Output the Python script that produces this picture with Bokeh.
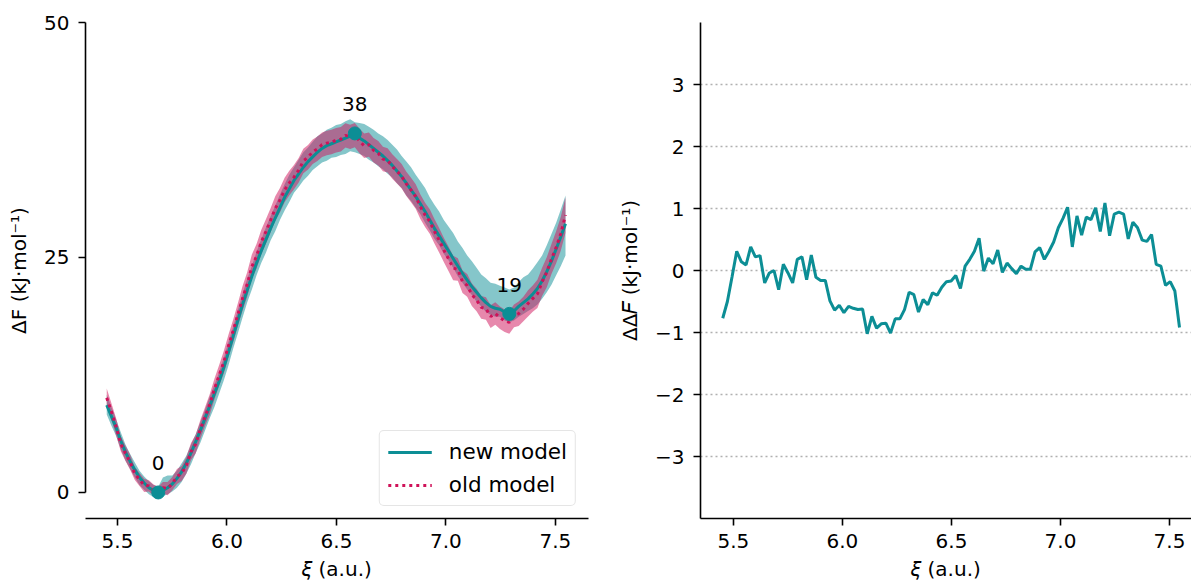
import numpy as np
from bokeh.plotting import figure
from bokeh.layouts import row
from bokeh.models import FixedTicker, Range1d, Legend, LegendItem, PrintfTickFormatter
from bokeh.embed import file_html
from bokeh.resources import INLINE
from bokeh.core.properties import value

FONT = "DejaVu Sans"
TEAL = "#0C8E95"
CRIMSON = "#CF1259"

# reaction coordinate grid (a.u.)
xi = np.linspace(5.451, 7.546, 99)

# free energy profile of the new model (kJ/mol)
f_new = [
    9.3, 8.1, 6.9, 5.5, 4.3, 3.3, 2.4, 1.6, 1.0, 0.5,
    0.2, 0.0, 0.2, 0.5, 0.9, 1.5, 2.2, 3.1, 4.2, 5.4,
    6.6, 7.9, 9.2, 10.5, 11.8, 13.3, 14.9, 16.6, 18.3, 20.0,
    21.5, 23.0, 24.4, 25.7, 26.9, 28.1, 29.2, 30.3, 31.4, 32.3,
    33.2, 33.9, 34.6, 35.2, 35.7, 36.2, 36.6, 36.9, 37.1, 37.3,
    37.5, 37.7, 37.9, 38.2, 37.7, 37.4, 37.0, 36.6, 36.2, 35.8,
    35.3, 34.8, 34.2, 33.6, 32.9, 32.2, 31.5, 30.7, 29.9, 29.0,
    28.1, 27.3, 26.5, 25.7, 24.9, 24.1, 23.3, 22.6, 21.9, 21.3,
    20.7, 20.2, 19.8, 19.6, 19.5, 19.2, 19.0, 19.3, 19.8, 20.2,
    20.6, 21.1, 21.7, 22.5, 23.5, 24.6, 25.9, 27.2, 28.6,
]

# difference new - old (kJ/mol)
ddf = [
    -0.77, -0.50, -0.10, 0.31, 0.14, 0.09, 0.38, 0.22, 0.24, -0.20,
    -0.04, 0.00, -0.31, 0.10, -0.04, -0.20, 0.18, 0.22, -0.15, 0.25,
    -0.11, -0.16, -0.16, -0.49, -0.64, -0.56, -0.68, -0.58, -0.61, -0.63,
    -0.62, -1.02, -0.74, -0.93, -0.86, -0.85, -1.01, -0.78, -0.78, -0.63,
    -0.35, -0.39, -0.67, -0.47, -0.55, -0.36, -0.40, -0.27, -0.18, -0.17,
    -0.08, -0.29, 0.07, 0.18, 0.31, 0.52, -0.01, 0.20, 0.11, 0.33,
    -0.03, 0.12, 0.03, -0.05, 0.07, 0.02, 0.02, 0.30, 0.37, 0.18,
    0.31, 0.46, 0.69, 0.84, 1.02, 0.38, 0.88, 0.57, 0.86, 0.82,
    1.01, 0.63, 1.09, 0.56, 0.91, 0.94, 0.91, 0.51, 0.78, 0.69,
    0.49, 0.47, 0.58, 0.10, 0.07, -0.24, -0.18, -0.33, -0.92,
]

# uncertainty of the new model, above / below the profile
new_hi = [
    1.1, 1.0, 0.9, 0.9, 0.8, 0.8, 0.8, 0.7, 0.7, 0.7,
    0.6, 0.6, 1.4, 1.3, 0.9,
    0.8, 0.9, 0.8, 0.9, 0.8, 0.9, 0.9, 1.0, 0.9, 1.0,
    1.0, 1.1, 1.0, 1.1, 1.1, 1.2, 1.1, 1.2, 1.2, 1.3, 1.3,
    1.3, 1.4, 1.4, 1.5, 1.4, 1.5, 1.6, 1.5, 1.6, 1.7,
    1.6, 1.7, 1.7, 1.8, 1.7, 1.8, 1.8,
    1.2, 1.6, 1.8, 1.9, 2.0, 2.0, 2.1, 2.2,
    2.2, 2.3, 2.2, 2.3, 2.4, 2.3, 2.4, 2.5, 2.4, 2.5,
    2.6, 2.5, 2.6, 2.7, 2.6, 2.7, 2.6, 2.7, 2.6,
    2.5, 2.6, 2.5, 2.6, 2.5, 2.6, 2.6, 2.5, 2.6, 2.7,
    2.6, 2.7, 2.8, 2.7, 2.8, 2.9, 2.8, 2.9, 3.0,
]
new_lo = [
    1.0, 1.0, 0.9, 0.9, 0.9, 0.8, 0.8, 0.8, 0.7, 0.7,
    0.7, 0.7, 0.6, 0.7, 0.8,
    1.0, 1.1, 1.1, 1.2, 1.2, 1.3, 1.3, 1.3, 1.4, 1.3,
    1.4, 1.4, 1.3, 1.4, 1.4, 1.3, 1.4, 1.3, 1.3, 1.4, 1.3,
    1.4, 1.3, 1.4, 1.4, 1.3, 1.4, 1.4, 1.5, 1.4, 1.5,
    1.5, 1.6, 1.5, 1.6, 1.6, 1.7, 1.6,
    2.0, 1.7, 1.6, 1.6, 1.5, 1.5, 1.4, 1.4,
    1.3, 1.3, 1.2, 1.3, 1.2, 1.2, 1.1, 1.2, 1.1, 1.1,
    1.0, 1.1, 1.0, 1.0, 1.1, 1.0, 1.0, 0.9, 1.0,
    0.9, 1.0, 0.9, 0.9, 0.8, 0.9, 0.9, 1.0, 1.1, 1.2,
    1.3, 1.5, 1.7, 1.9, 2.2, 2.5, 2.8, 3.1, 3.4,
]

# uncertainty of the old model (symmetric)
old_err = [
    1.0, 0.9, 0.9, 0.8, 0.8, 0.8, 0.7, 0.7, 0.7, 0.6,
    0.6, 0.6, 0.6, 0.7, 0.7,
    0.8, 0.8, 0.9, 0.9, 1.0, 1.0, 1.0, 1.1, 1.1, 1.1,
    1.2, 1.2, 1.2, 1.2, 1.3, 1.3, 1.3, 1.3, 1.3, 1.3, 1.3,
    1.3, 1.3, 1.3, 1.3, 1.3, 1.3, 1.3, 1.3, 1.3, 1.3,
    1.3, 1.3, 1.3, 1.3, 1.3, 1.3, 1.3,
    1.3, 1.3, 1.3, 1.3, 1.3, 1.3, 1.3, 1.3,
    1.3, 1.3, 1.3, 1.3, 1.3, 1.3, 1.3, 1.3, 1.3, 1.3,
    1.3, 1.3, 1.3, 1.3, 1.2, 1.2, 1.2, 1.2, 1.2,
    1.2, 1.2, 1.2, 1.2, 1.2, 1.2, 1.2, 1.2, 1.3, 1.3,
    1.4, 1.4, 1.5, 1.5, 1.6, 1.6, 1.7, 1.8, 1.9,
]

f_new = np.array(f_new)
ddf = np.array(ddf)
f_old = f_new - ddf
new_hi = np.array(new_hi)
new_lo = np.array(new_lo)
old_err = np.array(old_err)

# stationary points of the new profile: first minimum, barrier top, second minimum
i_min1 = int(np.argmin(f_new[:40]))
i_max = 40 + int(np.argmax(f_new[40:70]))
i_min2 = 70 + int(np.argmin(f_new[70:]))
stat_idx = [i_min1, i_max, i_min2]
stat_x = xi[stat_idx]
stat_y = f_new[stat_idx]
stat_txt = [f"{v:.0f}" for v in stat_y]


def style_axes(p):
    for ax in (p.xaxis[0], p.yaxis[0]):
        ax.axis_line_color = "black"
        ax.axis_line_width = 1.6
        ax.major_tick_line_color = "black"
        ax.major_tick_line_width = 1.6
        ax.major_tick_out = 7
        ax.major_tick_in = 0
        ax.minor_tick_line_color = None
        ax.major_label_text_font = FONT
        ax.major_label_text_font_size = "20px"
        ax.major_label_text_color = "black"
        ax.axis_label_text_font = FONT
        ax.axis_label_text_font_size = "20px"
        ax.axis_label_text_font_style = "normal"
        ax.axis_label_text_color = "black"
    p.xaxis.major_label_standoff = 8
    p.xaxis.axis_label_standoff = 6
    p.yaxis.major_label_standoff = 9
    p.yaxis.axis_label_standoff = 10
    p.outline_line_color = None
    p.xaxis.ticker = FixedTicker(ticks=[5.5, 6.0, 6.5, 7.0, 7.5])
    p.xaxis.formatter = PrintfTickFormatter(format="%.1f")
    p.xaxis.axis_label = "\U0001D709 (a.u.)"


# ---- left panel: free energy profiles ----
left = figure(width=600, height=583, min_border_left=85, min_border_right=12,
              min_border_top=22, min_border_bottom=65,
              x_range=Range1d(5.354, 7.651), y_range=Range1d(-2.77, 50.0),
              output_backend="svg", toolbar_location=None)
style_axes(left)
left.xgrid.visible = False
left.ygrid.visible = False
left.yaxis.ticker = FixedTicker(ticks=[0, 25, 50])
left.yaxis.bounds = (0, 50)
left.yaxis.axis_label = "ΔF (kJ·mol⁻¹)"

left.varea(x=xi, y1=f_new - new_lo, y2=f_new + new_hi, fill_color=TEAL, fill_alpha=0.5)
left.varea(x=xi, y1=f_old - old_err, y2=f_old + old_err, fill_color=CRIMSON, fill_alpha=0.5)
r_new = left.line(xi, f_new, line_color=TEAL, line_width=3)
r_old = left.line(xi, f_old, line_color=CRIMSON, line_width=3, line_dash="3 4")
left.scatter(stat_x, stat_y, size=13, fill_color=TEAL, line_color=TEAL)
left.text(x=stat_x, y=stat_y, text=stat_txt, text_align="center",
          text_baseline="alphabetic", y_offset=-29,
          text_font=value(FONT), text_font_size="20px", text_color="black")

legend = Legend(items=[LegendItem(label="new model", renderers=[r_new]),
                       LegendItem(label="old model", renderers=[r_old])],
                location="bottom_right")
legend.label_text_font = FONT
legend.label_text_font_size = "21.5px"
legend.label_text_color = "black"
legend.glyph_width = 44
legend.glyph_height = 24
legend.label_height = 24
legend.label_standoff = 17
legend.spacing = 8
legend.padding = 8
legend.margin = 12
legend.border_line_color = "#cccccc"
legend.border_line_width = 1.5
legend.border_radius = 5
legend.background_fill_alpha = 0.8
left.add_layout(legend)

# ---- right panel: difference between models ----
right = figure(width=591, height=583, min_border_left=100, min_border_right=0,
               min_border_top=22, min_border_bottom=65,
               x_range=Range1d(5.349, 7.601), y_range=Range1d(-4.0, 4.0),
               output_backend="svg", toolbar_location=None)
style_axes(right)
right.xgrid.visible = False
yt = [-3, -2, -1, 0, 1, 2, 3]
right.yaxis.ticker = FixedTicker(ticks=yt)
right.ygrid.ticker = FixedTicker(ticks=yt)
right.yaxis.major_label_overrides = {t: (f"−{abs(t)}" if t < 0 else str(t)) for t in yt}
right.ygrid.grid_line_color = "#b0b0b0"
right.ygrid.grid_line_width = 1.5
right.ygrid.grid_line_dash = "2 3"
right.yaxis.axis_label = "ΔΔ\U0001D439 (kJ·mol⁻¹)"
right.line(xi, ddf, line_color=TEAL, line_width=3)

layout = row(left, right)
open("out.html", "w").write(file_html(layout, INLINE))
